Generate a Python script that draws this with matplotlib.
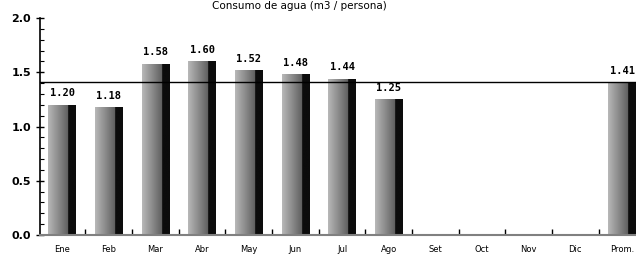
#consumo de agua por mes - grafico de barras
from matplotlib import pyplot as plt
import numpy as np

meses = ['Ene', 'Feb', 'Mar', 'Abr', 'May', 'Jun', 'Jul', 'Ago', 'Set', 'Oct', 'Nov', 'Dic', 'Prom.']
consumo = [1.20, 1.18, 1.58, 1.60, 1.52, 1.48, 1.44, 1.25, None, None, None, None, 1.41]
promedio = 1.41
titulo = 'Consumo de agua (m3 / persona)'

fig = plt.figure(figsize=(6.36, 2.57), dpi=100)
ax = fig.add_axes([0.063, 0.0856, 0.937, 0.844])

x = np.arange(len(meses))
alturas = [v if v is not None else 0 for v in consumo]
barras = ax.bar(x, alturas, width=0.58, color='none', edgecolor='none', zorder=2)

#degradado gris -> negro dentro de cada barra
grad = np.concatenate([np.linspace(0.72, 0.38, 36), np.full(14, 0.05)])[None, :]
for b, v in zip(barras, consumo):
    if v is None:
        continue
    x0, y0 = b.get_x(), b.get_y()
    im = ax.imshow(grad, cmap='gray', vmin=0, vmax=1, aspect='auto',
                   extent=[x0, x0 + b.get_width(), y0, y0 + b.get_height()], zorder=2)
    im.set_clip_path(b)
    ax.text(b.get_x() + b.get_width() / 2, v + 0.06, f'{v:.2f}', ha='center', va='bottom',
            fontsize=7.5, fontweight='bold', family='DejaVu Sans Mono', zorder=4)

#linea del promedio
ax.axhline(promedio, color='black', lw=1, zorder=3)

ax.set_xlim(-0.47, 12.3)
ax.set_ylim(0, 2.0)
ax.set_xticks(x)
ax.set_xticklabels(meses, fontsize=6)
ax.set_xticks(x[:-1] + 0.5, minor=True)
ax.tick_params(axis='x', which='major', length=0, pad=7)
ax.tick_params(axis='x', which='minor', direction='in', length=4, width=1)
ax.set_yticks([0, 0.5, 1.0, 1.5, 2.0])
ax.set_yticklabels(['0.0', '0.5', '1.0', '1.5', '2.0'], fontsize=8, fontweight='bold')
ax.set_yticks(np.arange(0, 2.01, 0.1), minor=True)
ax.tick_params(axis='y', which='major', direction='inout', length=6, width=1)
ax.tick_params(axis='y', which='minor', direction='in', length=3, width=0.8)

ax.spines['top'].set_visible(False)
ax.spines['right'].set_visible(False)
ax.spines['bottom'].set_color('gray')
ax.spines['bottom'].set_linewidth(1.5)
ax.spines['left'].set_linewidth(1.2)

fig.text(0.47, 0.998, titulo, ha='center', va='top', fontsize=7.5)

plt.savefig('out.png', dpi=100)
plt.close()
